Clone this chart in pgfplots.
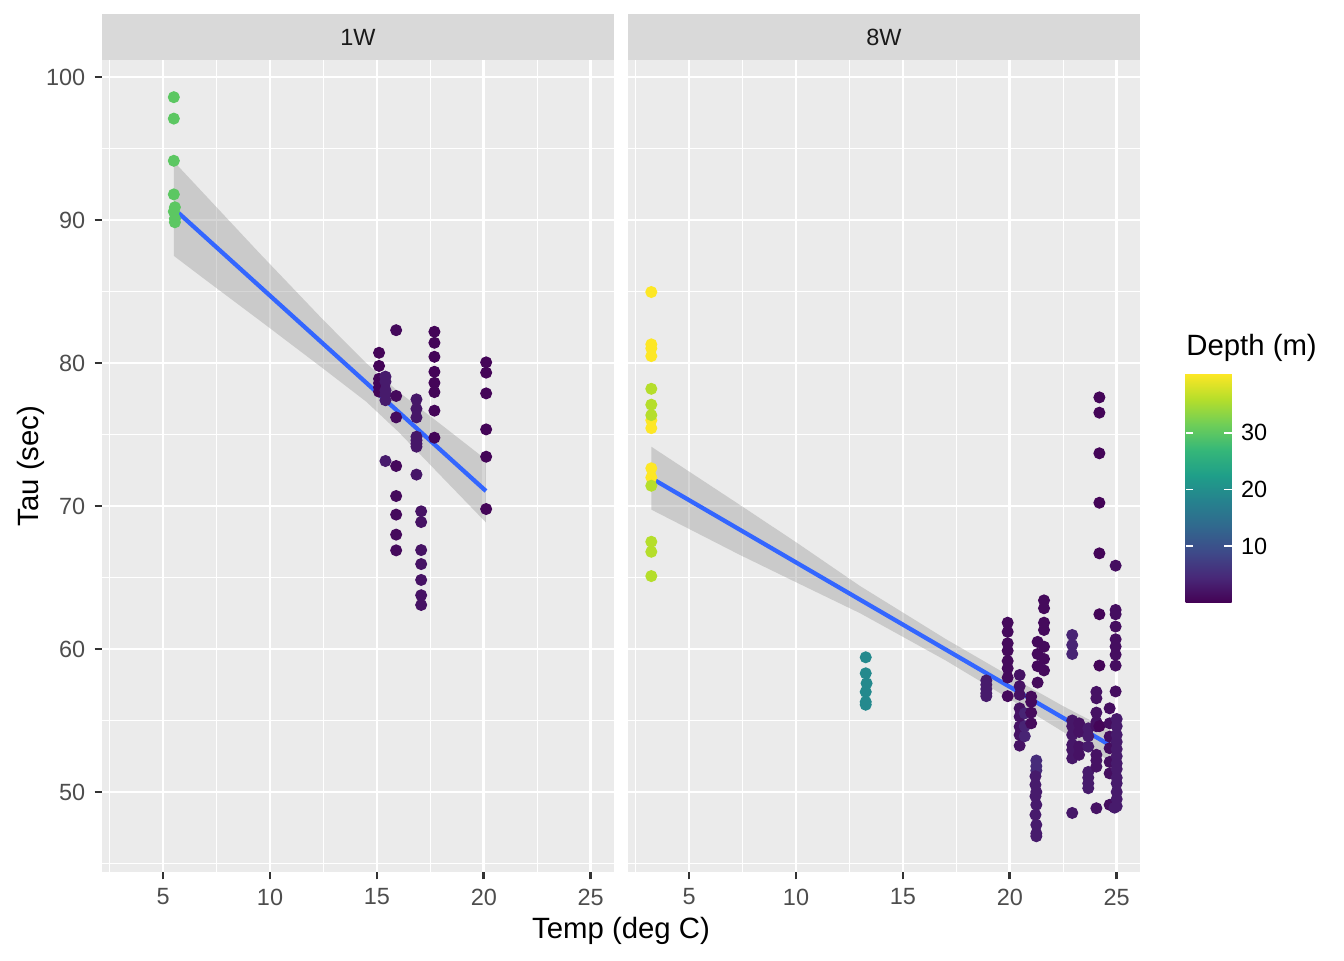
\documentclass[border=0pt]{standalone}
\usepackage{fontspec}
\setmainfont{Liberation Sans}
\usepackage{pgfplots}
\pgfplotsset{compat=1.18}
\definecolor{panelbg}{HTML}{EBEBEB}
\definecolor{stripbg}{HTML}{D9D9D9}
\definecolor{tickgrey}{HTML}{4D4D4D}
\definecolor{tickline}{HTML}{333333}
\definecolor{lineblue}{HTML}{3366FF}
\definecolor{bandgrey}{HTML}{999999}
\definecolor{striptext}{HTML}{1A1A1A}
\pgfplotsset{
 colormap={vir}{rgb255=(68,1,84) rgb255=(72,40,120) rgb255=(62,74,137) rgb255=(49,104,142) rgb255=(38,130,142) rgb255=(31,158,137) rgb255=(53,183,121) rgb255=(110,206,88) rgb255=(181,222,43) rgb255=(253,231,37)},
 panel/.style={
  scale only axis, width=192pt, height=304.5pt, anchor=south west,
  xmin=2.14, xmax=26.09, ymin=44.4, ymax=101.2,
  axis background/.style={fill=panelbg},
  axis line style={draw=none},
  grid=both,
  major grid style={white, line width=1.0pt},
  minor grid style={white, line width=0.5pt},
  xtick={5,10,15,20,25}, ytick={50,60,70,80,90,100},
  minor xtick={2.5,7.5,12.5,17.5,22.5}, minor ytick={45,55,65,75,85,95},
  tick align=outside, major tick length=2.75pt, minor tick length=0pt,
  tick style={tickline, line width=1.0pt},
  xtick pos=bottom, ytick pos=left,
  /pgf/number format/assume math mode=true,
  ticklabel style={font=\fontsize{8.8}{10}\selectfont, text=tickgrey},
  colormap name=vir, point meta min=0, point meta max=40.4,
 },
 pts/.style={scatter, only marks, mark=*, mark size=2.05pt,
  scatter/use mapped color={draw=mapped color, fill=mapped color}, point meta=explicit},
}
\begin{document}
\begin{tikzpicture}
\path[use as bounding box] (0,0) rectangle (504pt,360pt);
% ---------- 1W ----------
\begin{axis}[panel, at={(38.25pt,33pt)}]
\addplot[fill=bandgrey, fill opacity=0.4, draw=none] coordinates {
 (5.5,94.1) (7,91.7) (9.5,87.7) (12.5,83.0) (14.5,80.0) (16,78.0) (18,75.7) (20.1,73.25)
 (20.1,68.85) (18,72.1) (16,75.2) (14.5,77.3) (12.5,79.6) (9.5,83.0) (7,85.8) (5.5,87.5)};
\addplot[lineblue, line width=1.6pt] coordinates {(5.5,90.8) (20.1,71.05)};
\addplot[pts] table[x=x, y=y, meta=d] {
x y d
5.5 98.6 30
5.5 97.1 30
5.5 94.15 30
5.5 91.8 30
5.55 90.9 30
5.5 90.6 30
5.55 90.1 30
5.55 89.85 30
15.1 80.72 0.5
15.1 79.8 0.5
15.1 78.9 0.5
15.1 78.6 0.5
15.1 78.3 0.5
15.1 78.0 0.5
15.4 79.05 3
15.4 78.7 3
15.4 78.1 3
15.4 77.8 3
15.4 77.4 3
15.4 73.15 3
15.9 82.3 1
15.9 77.7 1
15.9 76.2 1
15.9 72.8 1
15.9 70.7 1
15.9 69.4 1
15.9 68.0 1
15.9 66.9 1
16.85 77.46 2.5
16.85 76.8 2.5
16.85 76.2 2.5
16.85 74.85 2.5
16.85 74.6 2.5
16.85 74.35 2.5
16.85 74.15 2.5
16.85 72.2 2.5
17.07 69.63 2
17.07 68.88 2
17.07 66.92 2
17.07 65.94 2
17.07 64.83 2
17.07 63.76 2
17.07 63.08 2
17.69 82.19 0.5
17.69 81.42 0.5
17.69 80.44 0.5
17.69 79.39 0.5
17.69 78.62 0.5
17.69 77.97 0.5
17.69 76.67 0.5
17.69 74.78 0.5
20.11 80.05 0.5
20.11 79.33 0.5
20.11 77.88 0.5
20.11 75.36 0.5
20.11 73.45 0.5
20.11 69.79 0.5
};
\end{axis}
% ---------- 8W ----------
\begin{axis}[panel, at={(235.5pt,33pt)}, ymajorticks=false, yminorticks=false,
 colorbar right, colorbar/width=17.25pt,
 colorbar style={
  scale only axis, height=85.9pt,
  at={(parent axis.south east)}, anchor=south west, xshift=8.6pt, yshift=100.9pt,
  ytick={10,20,30}, ytick pos=both, yticklabel pos=right,
  tick align=inside, major tick length=2.9pt,
  tick style={white, line width=0.6pt},
  axis line style={draw=none},
  /pgf/number format/assume math mode=true,
  yticklabel style={font=\fontsize{8.8}{10}\selectfont, text=black},
 }]
\addplot[fill=bandgrey, fill opacity=0.4, draw=none] coordinates {
 (3.23,74.15) (7.35,70.1) (10,67.47) (13,64.4) (17,60.7) (20,58.1) (22.5,56.0) (25,54.05)
 (25,51.85) (22.5,54.2) (20,56.5) (17,59.2) (13,62.5) (10,64.67) (7.35,66.6) (3.23,69.75)};
\addplot[lineblue, line width=1.6pt] coordinates {(3.23,71.95) (25,53.0)};
\addplot[pts] table[x=x, y=y, meta=d] {
x y d
3.23 84.97 40.4
3.23 81.31 40.4
3.23 81.03 40.4
3.23 80.49 40.4
3.23 76.0 40.4
3.23 75.45 40.4
3.23 72.64 40.4
3.23 72.0 40.4
3.23 78.2 35.9
3.23 77.09 35.9
3.23 76.36 35.9
3.23 71.42 35.9
3.23 67.5 35.9
3.23 66.8 35.9
3.23 65.1 35.9
13.26 59.42 19
13.26 58.3 19
13.3 57.6 19
13.26 57.0 19
13.26 56.3 19
13.26 56.1 19
18.9 57.8 3
18.9 57.5 3
18.9 57.2 3
18.9 56.9 3
18.9 56.7 3
19.9 61.84 1
19.9 61.2 1
19.9 60.4 1
19.9 59.88 1
19.9 59.16 1
19.9 58.65 1
19.9 58.0 1
19.9 56.7 1
20.46 58.18 2
20.46 57.4 2
20.46 56.8 2
20.46 55.85 2
20.46 55.27 2
20.46 54.57 2
20.46 53.99 2
20.46 53.24 2
20.7 55.5 4
20.7 54.6 4
20.7 53.9 4
21.0 56.67 1
21.0 56.3 1
21.0 55.55 1
21.0 54.8 1
21.24 52.2 5
21.24 51.8 5
21.24 51.5 5
21.2 51.1 3
21.2 50.5 3
21.24 50.0 3
21.2 49.7 3
21.24 49.1 3
21.2 48.4 3
21.24 47.7 3
21.24 47.1 3
21.24 46.9 3
21.3 60.5 1
21.3 59.65 1
21.3 58.8 1
21.3 57.65 1
21.6 63.4 1
21.6 62.85 1
21.6 61.84 1
21.6 61.33 1
21.6 60.16 1
21.6 59.3 1
21.6 58.5 1
22.92 60.98 4
22.92 60.28 4
22.92 59.65 4
22.92 55.0 2.5
22.92 54.6 2.5
22.92 53.99 2.5
22.92 53.3 2.5
22.92 52.94 2.5
22.92 52.35 2.5
22.92 48.53 2.5
23.24 54.8 2
23.24 54.2 2
23.24 53.17 2
23.24 52.6 2
23.67 54.45 3
23.67 53.9 3
23.67 53.17 3
23.67 51.4 3
23.67 51.0 3
23.67 50.6 3
23.67 50.26 3
24.05 57.0 2
24.05 56.55 2
24.05 55.55 2
24.05 54.9 2
24.05 54.6 2
24.05 52.6 2
24.05 52.2 2
24.05 51.77 2
24.05 48.86 2
24.19 77.6 0.5
24.19 76.53 0.5
24.19 73.69 0.5
24.19 70.23 0.5
24.19 66.69 0.5
24.19 62.43 0.5
24.19 58.84 0.5
24.19 54.6 0.5
24.67 55.85 1.5
24.67 54.8 1.5
24.67 53.87 1.5
24.67 53.06 1.5
24.67 52.1 1.5
24.67 51.3 1.5
24.67 49.1 1.5
24.95 65.83 1.5
24.95 62.73 1.5
24.95 62.43 1.5
24.95 61.57 1.5
24.95 60.68 1.5
24.95 60.17 1.5
24.95 59.6 1.5
24.95 58.84 1.5
24.95 57.03 1.5
25.0 55.1 3
25.0 54.6 3
25.0 54.0 3
25.0 53.5 3
25.0 53.0 3
25.0 52.5 3
25.0 52.0 3
25.0 51.6 3
25.0 51.0 3
25.0 50.6 3
25.0 50.0 3
25.0 49.5 3
25.0 49.0 3
24.9 48.9 3
};
\end{axis}
% strips
\fill[stripbg] (38.25pt,337.5pt) rectangle (230.25pt,354.75pt);
\fill[stripbg] (235.5pt,337.5pt) rectangle (427.5pt,354.75pt);
\node[font=\fontsize{8.8}{10}\selectfont, text=striptext] at (134.25pt,346.1pt) {1W};
\node[font=\fontsize{8.8}{10}\selectfont, text=striptext] at (331.5pt,346.1pt) {8W};
% titles
\node[font=\fontsize{11}{13}\selectfont, anchor=base] at (232.9pt,8.2pt) {Temp (deg C)};
\node[font=\fontsize{11}{13}\selectfont, anchor=base, rotate=90] at (14.3pt,185.3pt) {Tau (sec)};
\node[font=\fontsize{11}{13}\selectfont, anchor=base west, inner sep=0pt] at (444.7pt,226.6pt) {Depth (m)};
\end{tikzpicture}
\end{document}
